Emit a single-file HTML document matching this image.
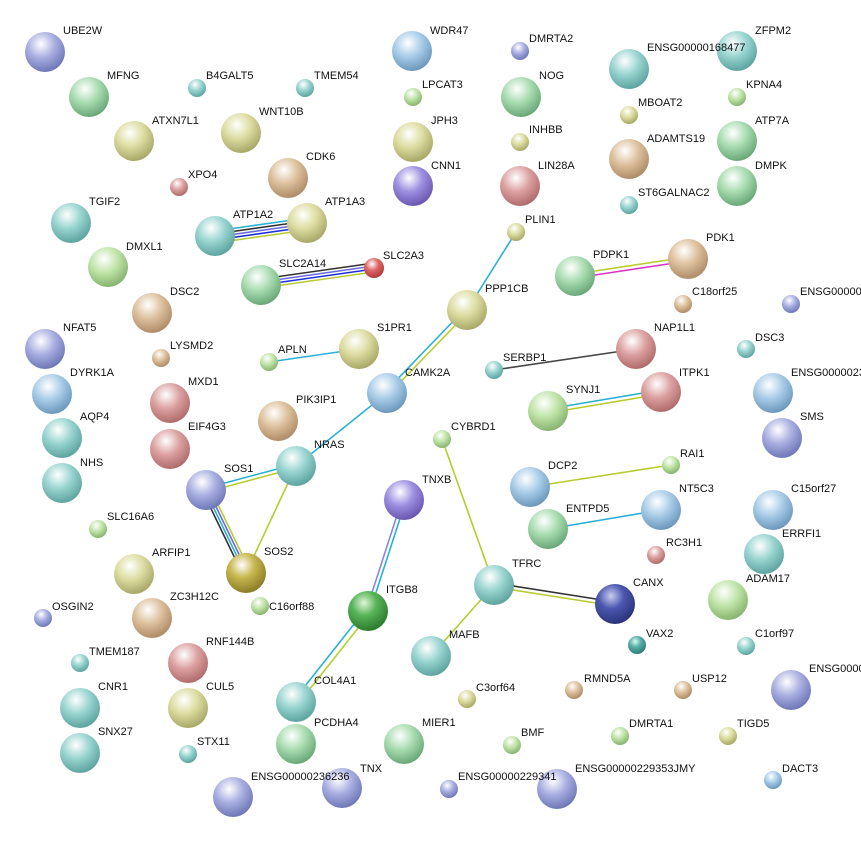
<!DOCTYPE html>
<html><head><meta charset="utf-8"><style>
html,body{margin:0;padding:0;background:#fff;width:861px;height:844px;overflow:hidden}
text{font-family:"Liberation Sans",sans-serif;font-size:11px;fill:#111}
</style></head><body>
<svg width="861" height="844" viewBox="0 0 861 844" xmlns="http://www.w3.org/2000/svg">
<defs>
<radialGradient id="gP" cx="40%" cy="30%" r="70%"><stop offset="0" stop-color="#fff"/><stop offset="0.5" stop-color="#a8aee0"/><stop offset="1" stop-color="#6f78b8"/></radialGradient>
<radialGradient id="gG" cx="40%" cy="30%" r="70%"><stop offset="0" stop-color="#fff"/><stop offset="0.5" stop-color="#a8dcb0"/><stop offset="1" stop-color="#6aa878"/></radialGradient>
<radialGradient id="gT" cx="40%" cy="30%" r="70%"><stop offset="0" stop-color="#fff"/><stop offset="0.5" stop-color="#98d4d0"/><stop offset="1" stop-color="#5ea4a0"/></radialGradient>
<radialGradient id="gY" cx="40%" cy="30%" r="70%"><stop offset="0" stop-color="#fff"/><stop offset="0.5" stop-color="#dcdca0"/><stop offset="1" stop-color="#a8a868"/></radialGradient>
<radialGradient id="gO" cx="40%" cy="30%" r="70%"><stop offset="0" stop-color="#fff"/><stop offset="0.5" stop-color="#ddc09c"/><stop offset="1" stop-color="#b08c68"/></radialGradient>
<radialGradient id="gR" cx="40%" cy="30%" r="70%"><stop offset="0" stop-color="#fff"/><stop offset="0.5" stop-color="#dca0a0"/><stop offset="1" stop-color="#b06c6c"/></radialGradient>
<radialGradient id="gRed" cx="40%" cy="30%" r="70%"><stop offset="0" stop-color="#fff"/><stop offset="0.45" stop-color="#e06a6a"/><stop offset="1" stop-color="#b03838"/></radialGradient>
<radialGradient id="gL" cx="40%" cy="30%" r="70%"><stop offset="0" stop-color="#fff"/><stop offset="0.5" stop-color="#c0e4a8"/><stop offset="1" stop-color="#88b470"/></radialGradient>
<radialGradient id="gB" cx="40%" cy="30%" r="70%"><stop offset="0" stop-color="#fff"/><stop offset="0.5" stop-color="#a8cce8"/><stop offset="1" stop-color="#6c98bc"/></radialGradient>
<radialGradient id="gN" cx="40%" cy="30%" r="70%"><stop offset="0" stop-color="#c8ccf0"/><stop offset="0.45" stop-color="#4c58b0"/><stop offset="1" stop-color="#2a347c"/></radialGradient>
<radialGradient id="gK" cx="40%" cy="30%" r="70%"><stop offset="0" stop-color="#fff"/><stop offset="0.45" stop-color="#c8b850"/><stop offset="1" stop-color="#8c7c28"/></radialGradient>
<radialGradient id="gD" cx="40%" cy="30%" r="70%"><stop offset="0" stop-color="#e0f4d8"/><stop offset="0.45" stop-color="#58b458"/><stop offset="1" stop-color="#2c7c2c"/></radialGradient>
<radialGradient id="gV" cx="40%" cy="30%" r="70%"><stop offset="0" stop-color="#fff"/><stop offset="0.5" stop-color="#9c8ee0"/><stop offset="1" stop-color="#6a58b0"/></radialGradient>
<radialGradient id="gTd" cx="40%" cy="30%" r="70%"><stop offset="0" stop-color="#e0f8f4"/><stop offset="0.45" stop-color="#58b0a8"/><stop offset="1" stop-color="#2c7c74"/></radialGradient>
</defs>
<g fill="none" stroke-width="1.6">
<line x1="215" y1="231" x2="307" y2="218" stroke="#2ab0d8"/>
<line x1="215" y1="234" x2="307" y2="221" stroke="#333"/>
<line x1="215" y1="237" x2="307" y2="224" stroke="#6a6ae0"/>
<line x1="215" y1="240" x2="307" y2="227" stroke="#2030d8"/>
<line x1="215" y1="243" x2="307" y2="230" stroke="#b8cc30"/>
<line x1="261" y1="279" x2="374" y2="263" stroke="#333"/>
<line x1="261" y1="282" x2="374" y2="266" stroke="#6a6ae0"/>
<line x1="261" y1="285" x2="374" y2="269" stroke="#2030d8"/>
<line x1="261" y1="288" x2="374" y2="272" stroke="#b8cc30"/>
<line x1="516" y1="232" x2="467" y2="310" stroke="#2ab0d8"/>
<line x1="465" y1="309" x2="385" y2="392" stroke="#2ab0d8"/>
<line x1="469" y1="311" x2="389" y2="394" stroke="#b8cc30"/>
<line x1="269" y1="362" x2="359" y2="349" stroke="#2ab0d8"/>
<line x1="387" y1="393" x2="296" y2="466" stroke="#2ab0d8"/>
<line x1="296" y1="464" x2="206" y2="488" stroke="#2ab0d8"/>
<line x1="296" y1="468" x2="206" y2="492" stroke="#b8cc30"/>
<line x1="296" y1="466" x2="246" y2="573" stroke="#b8cc30"/>
<line x1="202" y1="490" x2="242" y2="573" stroke="#333"/>
<line x1="205" y1="490" x2="245" y2="573" stroke="#2ab0d8"/>
<line x1="208" y1="490" x2="248" y2="573" stroke="#6a6ae0"/>
<line x1="211" y1="490" x2="251" y2="573" stroke="#b8cc30"/>
<line x1="575" y1="274" x2="688" y2="257" stroke="#b8cc30"/>
<line x1="575" y1="278" x2="688" y2="261" stroke="#d838c8"/>
<line x1="494" y1="370" x2="636" y2="349" stroke="#444"/>
<line x1="548" y1="409" x2="661" y2="390" stroke="#2ab0d8"/>
<line x1="548" y1="413" x2="661" y2="394" stroke="#b8cc30"/>
<line x1="442" y1="439" x2="494" y2="585" stroke="#b8cc30"/>
<line x1="530" y1="487" x2="671" y2="465" stroke="#b8cc30"/>
<line x1="548" y1="529" x2="661" y2="510" stroke="#2ab0d8"/>
<line x1="494" y1="583" x2="615" y2="602" stroke="#333"/>
<line x1="494" y1="587" x2="615" y2="606" stroke="#b8cc30"/>
<line x1="494" y1="585" x2="431" y2="656" stroke="#b8cc30"/>
<line x1="402" y1="500" x2="366" y2="611" stroke="#8888e0"/>
<line x1="406" y1="500" x2="370" y2="611" stroke="#2ab0d8"/>
<line x1="366" y1="609" x2="294" y2="700" stroke="#2ab0d8"/>
<line x1="370" y1="613" x2="298" y2="704" stroke="#b8cc30"/>
</g>
<g>
<circle cx="45" cy="52" r="20" fill="url(#gP)"/>
<circle cx="89" cy="97" r="20" fill="url(#gG)"/>
<circle cx="134" cy="141" r="20" fill="url(#gY)"/>
<circle cx="241" cy="133" r="20" fill="url(#gY)"/>
<circle cx="288" cy="178" r="20" fill="url(#gO)"/>
<circle cx="71" cy="223" r="20" fill="url(#gT)"/>
<circle cx="215" cy="236" r="20" fill="url(#gT)"/>
<circle cx="307" cy="223" r="20" fill="url(#gY)"/>
<circle cx="108" cy="267" r="20" fill="url(#gL)"/>
<circle cx="261" cy="285" r="20" fill="url(#gG)"/>
<circle cx="152" cy="313" r="20" fill="url(#gO)"/>
<circle cx="45" cy="349" r="20" fill="url(#gP)"/>
<circle cx="52" cy="394" r="20" fill="url(#gB)"/>
<circle cx="62" cy="438" r="20" fill="url(#gT)"/>
<circle cx="62" cy="483" r="20" fill="url(#gT)"/>
<circle cx="170" cy="403" r="20" fill="url(#gR)"/>
<circle cx="170" cy="449" r="20" fill="url(#gR)"/>
<circle cx="278" cy="421" r="20" fill="url(#gO)"/>
<circle cx="359" cy="349" r="20" fill="url(#gY)"/>
<circle cx="387" cy="393" r="20" fill="url(#gB)"/>
<circle cx="296" cy="466" r="20" fill="url(#gT)"/>
<circle cx="206" cy="490" r="20" fill="url(#gP)"/>
<circle cx="246" cy="573" r="20" fill="url(#gK)"/>
<circle cx="134" cy="574" r="20" fill="url(#gY)"/>
<circle cx="152" cy="618" r="20" fill="url(#gO)"/>
<circle cx="188" cy="663" r="20" fill="url(#gR)"/>
<circle cx="188" cy="708" r="20" fill="url(#gY)"/>
<circle cx="80" cy="708" r="20" fill="url(#gT)"/>
<circle cx="80" cy="753" r="20" fill="url(#gT)"/>
<circle cx="296" cy="702" r="20" fill="url(#gT)"/>
<circle cx="296" cy="744" r="20" fill="url(#gG)"/>
<circle cx="233" cy="797" r="20" fill="url(#gP)"/>
<circle cx="342" cy="788" r="20" fill="url(#gP)"/>
<circle cx="404" cy="744" r="20" fill="url(#gG)"/>
<circle cx="368" cy="611" r="20" fill="url(#gD)"/>
<circle cx="404" cy="500" r="20" fill="url(#gV)"/>
<circle cx="494" cy="585" r="20" fill="url(#gT)"/>
<circle cx="615" cy="604" r="20" fill="url(#gN)"/>
<circle cx="431" cy="656" r="20" fill="url(#gT)"/>
<circle cx="557" cy="789" r="20" fill="url(#gP)"/>
<circle cx="412" cy="51" r="20" fill="url(#gB)"/>
<circle cx="521" cy="97" r="20" fill="url(#gG)"/>
<circle cx="413" cy="142" r="20" fill="url(#gY)"/>
<circle cx="413" cy="186" r="20" fill="url(#gV)"/>
<circle cx="520" cy="186" r="20" fill="url(#gR)"/>
<circle cx="467" cy="310" r="20" fill="url(#gY)"/>
<circle cx="629" cy="69" r="20" fill="url(#gT)"/>
<circle cx="737" cy="51" r="20" fill="url(#gT)"/>
<circle cx="629" cy="159" r="20" fill="url(#gO)"/>
<circle cx="737" cy="141" r="20" fill="url(#gG)"/>
<circle cx="737" cy="186" r="20" fill="url(#gG)"/>
<circle cx="575" cy="276" r="20" fill="url(#gG)"/>
<circle cx="688" cy="259" r="20" fill="url(#gO)"/>
<circle cx="636" cy="349" r="20" fill="url(#gR)"/>
<circle cx="661" cy="392" r="20" fill="url(#gR)"/>
<circle cx="548" cy="411" r="20" fill="url(#gL)"/>
<circle cx="773" cy="393" r="20" fill="url(#gB)"/>
<circle cx="782" cy="438" r="20" fill="url(#gP)"/>
<circle cx="530" cy="487" r="20" fill="url(#gB)"/>
<circle cx="548" cy="529" r="20" fill="url(#gG)"/>
<circle cx="661" cy="510" r="20" fill="url(#gB)"/>
<circle cx="773" cy="510" r="20" fill="url(#gB)"/>
<circle cx="764" cy="554" r="20" fill="url(#gT)"/>
<circle cx="728" cy="600" r="20" fill="url(#gL)"/>
<circle cx="791" cy="690" r="20" fill="url(#gP)"/>
<circle cx="197" cy="88" r="9" fill="url(#gT)"/>
<circle cx="305" cy="88" r="9" fill="url(#gT)"/>
<circle cx="179" cy="187" r="9" fill="url(#gR)"/>
<circle cx="374" cy="268" r="10" fill="url(#gRed)"/>
<circle cx="161" cy="358" r="9" fill="url(#gO)"/>
<circle cx="269" cy="362" r="9" fill="url(#gL)"/>
<circle cx="98" cy="529" r="9" fill="url(#gL)"/>
<circle cx="43" cy="618" r="9" fill="url(#gP)"/>
<circle cx="260" cy="606" r="9" fill="url(#gL)"/>
<circle cx="80" cy="663" r="9" fill="url(#gT)"/>
<circle cx="188" cy="754" r="9" fill="url(#gT)"/>
<circle cx="520" cy="51" r="9" fill="url(#gP)"/>
<circle cx="413" cy="97" r="9" fill="url(#gL)"/>
<circle cx="520" cy="142" r="9" fill="url(#gY)"/>
<circle cx="629" cy="115" r="9" fill="url(#gY)"/>
<circle cx="737" cy="97" r="9" fill="url(#gL)"/>
<circle cx="629" cy="205" r="9" fill="url(#gT)"/>
<circle cx="516" cy="232" r="9" fill="url(#gY)"/>
<circle cx="683" cy="304" r="9" fill="url(#gO)"/>
<circle cx="791" cy="304" r="9" fill="url(#gP)"/>
<circle cx="746" cy="349" r="9" fill="url(#gT)"/>
<circle cx="494" cy="370" r="9" fill="url(#gT)"/>
<circle cx="442" cy="439" r="9" fill="url(#gL)"/>
<circle cx="671" cy="465" r="9" fill="url(#gL)"/>
<circle cx="656" cy="555" r="9" fill="url(#gR)"/>
<circle cx="637" cy="645" r="9" fill="url(#gTd)"/>
<circle cx="746" cy="646" r="9" fill="url(#gT)"/>
<circle cx="467" cy="699" r="9" fill="url(#gY)"/>
<circle cx="574" cy="690" r="9" fill="url(#gO)"/>
<circle cx="683" cy="690" r="9" fill="url(#gO)"/>
<circle cx="512" cy="745" r="9" fill="url(#gL)"/>
<circle cx="620" cy="736" r="9" fill="url(#gL)"/>
<circle cx="728" cy="736" r="9" fill="url(#gY)"/>
<circle cx="773" cy="780" r="9" fill="url(#gB)"/>
<circle cx="449" cy="789" r="9" fill="url(#gP)"/>
</g>
<g>
<text x="63" y="34">UBE2W</text>
<text x="107" y="79">MFNG</text>
<text x="152" y="124">ATXN7L1</text>
<text x="259" y="115">WNT10B</text>
<text x="306" y="160">CDK6</text>
<text x="89" y="205">TGIF2</text>
<text x="233" y="218">ATP1A2</text>
<text x="325" y="205">ATP1A3</text>
<text x="126" y="250">DMXL1</text>
<text x="279" y="267">SLC2A14</text>
<text x="170" y="295">DSC2</text>
<text x="63" y="331">NFAT5</text>
<text x="70" y="376">DYRK1A</text>
<text x="80" y="420">AQP4</text>
<text x="80" y="466">NHS</text>
<text x="188" y="385">MXD1</text>
<text x="188" y="430">EIF4G3</text>
<text x="296" y="403">PIK3IP1</text>
<text x="377" y="331">S1PR1</text>
<text x="405" y="376">CAMK2A</text>
<text x="314" y="448">NRAS</text>
<text x="224" y="472">SOS1</text>
<text x="264" y="555">SOS2</text>
<text x="152" y="556">ARFIP1</text>
<text x="170" y="600">ZC3H12C</text>
<text x="206" y="645">RNF144B</text>
<text x="206" y="690">CUL5</text>
<text x="98" y="690">CNR1</text>
<text x="98" y="735">SNX27</text>
<text x="314" y="684">COL4A1</text>
<text x="314" y="726">PCDHA4</text>
<text x="251" y="780">ENSG00000236236</text>
<text x="360" y="772">TNX</text>
<text x="422" y="726">MIER1</text>
<text x="386" y="593">ITGB8</text>
<text x="422" y="483">TNXB</text>
<text x="512" y="567">TFRC</text>
<text x="633" y="586">CANX</text>
<text x="449" y="638">MAFB</text>
<text x="575" y="772">ENSG00000229353JMY</text>
<text x="430" y="34">WDR47</text>
<text x="539" y="79">NOG</text>
<text x="431" y="124">JPH3</text>
<text x="431" y="169">CNN1</text>
<text x="538" y="169">LIN28A</text>
<text x="485" y="292">PPP1CB</text>
<text x="647" y="51">ENSG00000168477</text>
<text x="755" y="34">ZFPM2</text>
<text x="647" y="142">ADAMTS19</text>
<text x="755" y="124">ATP7A</text>
<text x="755" y="169">DMPK</text>
<text x="593" y="258">PDPK1</text>
<text x="706" y="241">PDK1</text>
<text x="654" y="331">NAP1L1</text>
<text x="679" y="376">ITPK1</text>
<text x="566" y="393">SYNJ1</text>
<text x="791" y="376">ENSG00000236</text>
<text x="800" y="420">SMS</text>
<text x="548" y="469">DCP2</text>
<text x="566" y="512">ENTPD5</text>
<text x="679" y="492">NT5C3</text>
<text x="791" y="492">C15orf27</text>
<text x="782" y="537">ERRFI1</text>
<text x="746" y="582">ADAM17</text>
<text x="809" y="672">ENSG00000</text>
<text x="206" y="79">B4GALT5</text>
<text x="314" y="79">TMEM54</text>
<text x="188" y="178">XPO4</text>
<text x="383" y="259">SLC2A3</text>
<text x="170" y="349">LYSMD2</text>
<text x="278" y="353">APLN</text>
<text x="107" y="520">SLC16A6</text>
<text x="52" y="610">OSGIN2</text>
<text x="269" y="610">C16orf88</text>
<text x="89" y="655">TMEM187</text>
<text x="197" y="745">STX11</text>
<text x="529" y="42">DMRTA2</text>
<text x="422" y="88">LPCAT3</text>
<text x="529" y="133">INHBB</text>
<text x="638" y="106">MBOAT2</text>
<text x="746" y="88">KPNA4</text>
<text x="638" y="196">ST6GALNAC2</text>
<text x="525" y="223">PLIN1</text>
<text x="692" y="295">C18orf25</text>
<text x="800" y="295">ENSG00000</text>
<text x="755" y="341">DSC3</text>
<text x="503" y="361">SERBP1</text>
<text x="451" y="430">CYBRD1</text>
<text x="680" y="457">RAI1</text>
<text x="666" y="546">RC3H1</text>
<text x="646" y="637">VAX2</text>
<text x="755" y="637">C1orf97</text>
<text x="476" y="691">C3orf64</text>
<text x="584" y="682">RMND5A</text>
<text x="692" y="682">USP12</text>
<text x="521" y="736">BMF</text>
<text x="629" y="727">DMRTA1</text>
<text x="737" y="727">TIGD5</text>
<text x="782" y="772">DACT3</text>
<text x="458" y="780">ENSG00000229341</text>
</g>
</svg>
</body></html>
